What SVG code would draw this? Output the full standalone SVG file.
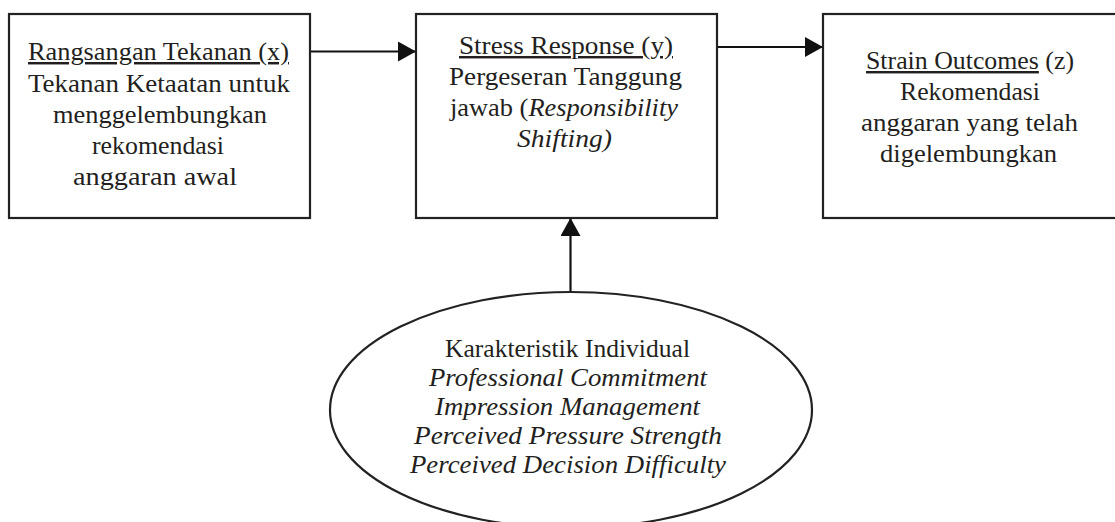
<svg xmlns="http://www.w3.org/2000/svg" width="1115" height="522" viewBox="0 0 1115 522">
<defs>
<marker id="arr" markerUnits="userSpaceOnUse" markerWidth="18" markerHeight="20" refX="18" refY="10" orient="auto">
<path d="M0,0 L18,10 L0,20 Z" fill="#111"/>
</marker>
<style>
.box{fill:#fff;stroke:#222;stroke-width:2.2}
.conn{stroke:#111;stroke-width:2.2;fill:none}
text{font-family:"Liberation Serif","Times New Roman",serif;font-size:24.5px;fill:#231f20}
.i{font-style:italic}
.u{text-decoration:underline}
</style>
</defs>
<rect width="1115" height="522" fill="#fff"/>
<g id="connectors">
<line class="conn" x1="310" y1="51.5" x2="416" y2="51.5" marker-end="url(#arr)"/>
<line class="conn" x1="717" y1="47" x2="823" y2="47" marker-end="url(#arr)"/>
<line class="conn" x1="570.5" y1="292" x2="570.5" y2="218" marker-end="url(#arr)"/>
</g>
<g id="node-x">
<rect class="box" x="9" y="14" width="301" height="204"/>
<text x="28" y="60" textLength="261" lengthAdjust="spacingAndGlyphs"><tspan class="u">Rangsangan Tekanan (x)</tspan></text>
<text x="28" y="92" textLength="262" lengthAdjust="spacingAndGlyphs">Tekanan Ketaatan  untuk</text>
<text x="53" y="123" textLength="214" lengthAdjust="spacingAndGlyphs">menggelembungkan</text>
<text x="92" y="154" textLength="132" lengthAdjust="spacingAndGlyphs">rekomendasi</text>
<text x="73" y="185" textLength="164" lengthAdjust="spacingAndGlyphs">anggaran awal</text>
</g>
<g id="node-y">
<rect class="box" x="416" y="14" width="301" height="204"/>
<text x="459" y="54" textLength="214" lengthAdjust="spacingAndGlyphs"><tspan class="u">Stress Response (y)</tspan></text>
<text x="449" y="85" textLength="233" lengthAdjust="spacingAndGlyphs">Pergeseran Tanggung</text>
<text x="450" y="116" textLength="228" lengthAdjust="spacingAndGlyphs">jawab (<tspan class="i">Responsibility</tspan></text>
<text x="517" y="147" textLength="95" lengthAdjust="spacingAndGlyphs" class="i">Shifting)</text>
</g>
<g id="node-z">
<rect class="box" x="823" y="14" width="302" height="204"/>
<text x="866" y="69" textLength="208" lengthAdjust="spacingAndGlyphs"><tspan class="u">Strain Outcomes</tspan> (z)</text>
<text x="900" y="100" textLength="140" lengthAdjust="spacingAndGlyphs">Rekomendasi</text>
<text x="861" y="131" textLength="217" lengthAdjust="spacingAndGlyphs">anggaran yang telah</text>
<text x="880" y="162" textLength="177" lengthAdjust="spacingAndGlyphs">digelembungkan</text>
</g>
<g id="node-individual">
<ellipse cx="571" cy="410" rx="241" ry="118" fill="#fff" stroke="#222" stroke-width="2.2"/>
<text x="445" y="357" textLength="245" lengthAdjust="spacingAndGlyphs">Karakteristik Individual</text>
<text x="429" y="386" textLength="278" lengthAdjust="spacingAndGlyphs" class="i">Professional Commitment</text>
<text x="435" y="415" textLength="265" lengthAdjust="spacingAndGlyphs" class="i">Impression Management</text>
<text x="414" y="444" textLength="308" lengthAdjust="spacingAndGlyphs" class="i">Perceived Pressure Strength</text>
<text x="410" y="473" textLength="316" lengthAdjust="spacingAndGlyphs" class="i">Perceived Decision Difficulty</text>
</g>
</svg>
